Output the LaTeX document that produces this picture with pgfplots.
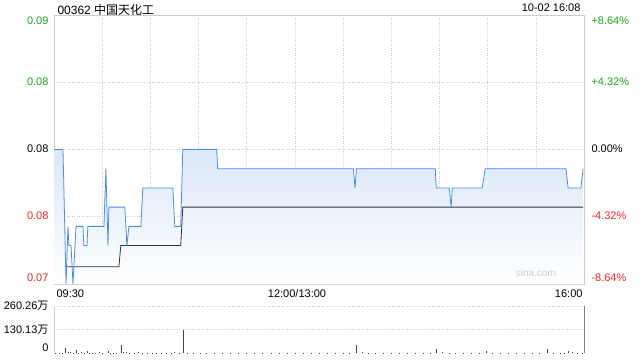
\documentclass[border=0pt]{standalone}
\usepackage{pgfplots}
\pgfplotsset{compat=1.18}
\usepackage{fontspec}
\setmainfont{Liberation Sans}
\newfontfamily\cjk{Noto Sans CJK SC}
\definecolor{gridc}{HTML}{CCCCCC}
\definecolor{dotc}{HTML}{C8C8C8}
\definecolor{upc}{HTML}{1EA81E}
\definecolor{downc}{HTML}{F02828}
\definecolor{linec}{HTML}{4A8CEE}
\definecolor{fillc}{HTML}{DCE7F9}
\definecolor{avgc}{HTML}{333333}
\definecolor{volc}{HTML}{444444}
\begin{document}
\begin{tikzpicture}[x=1bp,y=1bp,font=\fontsize{11bp}{13bp}\selectfont]
\useasboundingbox (0,0) rectangle (640,360);
\begin{axis}[
  at={(54bp,76bp)}, anchor=south west,
  width=530bp, height=269bp, scale only axis,
  xmin=0, xmax=330, ymin=0.0740, ymax=0.0880,
  scaled y ticks=false, scaled x ticks=false,
  axis line style={gridc},
  xtick={30,60,...,300}, ytick={0.0775,0.081,0.0845},
  xticklabels={}, yticklabels={},
  major tick length=0pt,
  grid=major, major grid style={dash pattern=on 1bp off 1.5bp, dotc, line width=0.6pt},
  clip=true,
]
\addplot[draw=none, top color=fillc, bottom color=white] coordinates {
(0,0.081) (5.6,0.081) (7.5,0.074) (8.7,0.077) (9.3,0.076) (10.6,0.076) (11.8,0.074)
(13.7,0.077) (18.0,0.077) (18.6,0.076) (20.5,0.076) (21.1,0.077) (31.1,0.077)
(32.3,0.080) (33.6,0.076) (34.2,0.078) (44.1,0.078) (45.4,0.076) (46.6,0.077)
(54.1,0.077) (55.3,0.079) (74.0,0.079) (75.2,0.077) (78.9,0.077) (80.2,0.081)
(101.3,0.081) (101.9,0.080) (186.4,0.080) (187.4,0.079) (188.3,0.080) (237.4,0.080)
(238.0,0.079) (246.1,0.079) (247.3,0.078) (248.0,0.079) (266.6,0.079) (268.5,0.080)
(318.8,0.080) (320.1,0.079) (328.1,0.079) (329.4,0.080)
} \closedcycle;
\addplot[avgc, line width=0.8pt] coordinates {
(6.8,0.0749) (40.4,0.0749) (41.6,0.076) (78.9,0.076)
(80.2,0.078) (329.4,0.078)
};
\addplot[linec, line width=0.8pt] coordinates {
(0,0.081) (5.6,0.081) (7.5,0.074) (8.7,0.077) (9.3,0.076) (10.6,0.076) (11.8,0.074)
(13.7,0.077) (18.0,0.077) (18.6,0.076) (20.5,0.076) (21.1,0.077) (31.1,0.077)
(32.3,0.080) (33.6,0.076) (34.2,0.078) (44.1,0.078) (45.4,0.076) (46.6,0.077)
(54.1,0.077) (55.3,0.079) (74.0,0.079) (75.2,0.077) (78.9,0.077) (80.2,0.081)
(101.3,0.081) (101.9,0.080) (186.4,0.080) (187.4,0.079) (188.3,0.080) (237.4,0.080)
(238.0,0.079) (246.1,0.079) (247.3,0.078) (248.0,0.079) (266.6,0.079) (268.5,0.080)
(318.8,0.080) (320.1,0.079) (328.1,0.079) (329.4,0.080)
};
\node[text=gridc, font=\fontsize{10bp}{12bp}\selectfont] at (axis cs:300,0.0746) {sina.com};
\end{axis}
\begin{axis}[
  at={(54bp,7bp)}, anchor=south west,
  width=530bp, height=47bp, scale only axis,
  xmin=0, xmax=330, ymin=0, ymax=260.26,
  scaled y ticks=false,
  axis line style={draw=none},
  xtick=\empty, ytick={130.13,260.26}, yticklabels={},
  major tick length=0pt,
  ymajorgrids, major grid style={dash pattern=on 1bp off 1.5bp, dotc, line width=0.6pt},
  clip=false,
]
\draw[gridc] (rel axis cs:0,0) -- (rel axis cs:0,1);
\draw[gray] (rel axis cs:1,0) -- (rel axis cs:1,1);
\addplot[ycomb, volc, line width=0.6pt] coordinates {
(1,2) (3,1.5) (5,2) (6.8,28) (8.7,8) (10,3) (12,2) (13.7,15) (15,2) (17,3) (19,2)
(20.5,10) (22,2) (24,1.5) (26,2) (28,3) (30,2) (33.6,10) (35,2) (37,1.5) (39,2)
(41.6,45) (43,6) (45,3) (47,2) (50,2) (52.2,5) (55,2) (58,1.5) (61,2) (64,2)
(67,1.5) (70,2) (73,2) (75.2,6) (78,2) (80.2,128) (83,2) (87,1.5) (91,2) (95,1.5)
(100,2) (105,1.5) (110,2) (115,1.5) (120,2) (125,1.5) (130,2) (135,1.5) (140,2)
(145,1.5) (150,2) (155,1.5) (160,2) (165,1.5) (170,2) (175,1.5) (180,2) (184,2)
(188.3,44) (192,3) (196,2) (200,2) (205,1.5) (210,2) (215,1.5) (220,2) (225,2)
(230,1.5) (234,2) (238.0,22) (242,3) (246,2) (250,2) (255,1.5) (260,2) (265,2)
(269.1,10) (273,2) (278,1.5) (283,2) (288,1.5) (293,2) (298,2) (302,1.5)
(307.0,22) (311,2) (315,2) (318,1.5) (320.1,12) (323,3) (326,2) (329,2)
};
\end{axis}
% title and labels
\node[anchor=west] at (54,350) {\fontsize{12bp}{14bp}\selectfont 00362 {\cjk 中国天化工}};
\node[anchor=east] at (584,352) {10-02 16:08};
\node[anchor=east, text=upc] at (52,339) {0.09};
\node[anchor=east, text=upc] at (52,278) {0.08};
\node[anchor=east] at (52,211) {0.08};
\node[anchor=east, text=downc] at (52,144) {0.08};
\node[anchor=east, text=downc] at (52,82) {0.07};
\node[anchor=west, text=upc] at (588,339) {+8.64\%};
\node[anchor=west, text=upc] at (588,278) {+4.32\%};
\node[anchor=west] at (588,211) {0.00\%};
\node[anchor=west, text=downc] at (588,144) {-4.32\%};
\node[anchor=west, text=downc] at (588,82) {-8.64\%};
\node[anchor=west] at (53,66) {09:30};
\node at (297,66) {12:00/13:00};
\node[anchor=east] at (586,66) {16:00};
\node[anchor=east] at (52,54) {260.26{\cjk 万}};
\node[anchor=east] at (52,30) {130.13{\cjk 万}};
\node[anchor=east] at (52,12) {0};
\end{tikzpicture}
\end{document}
